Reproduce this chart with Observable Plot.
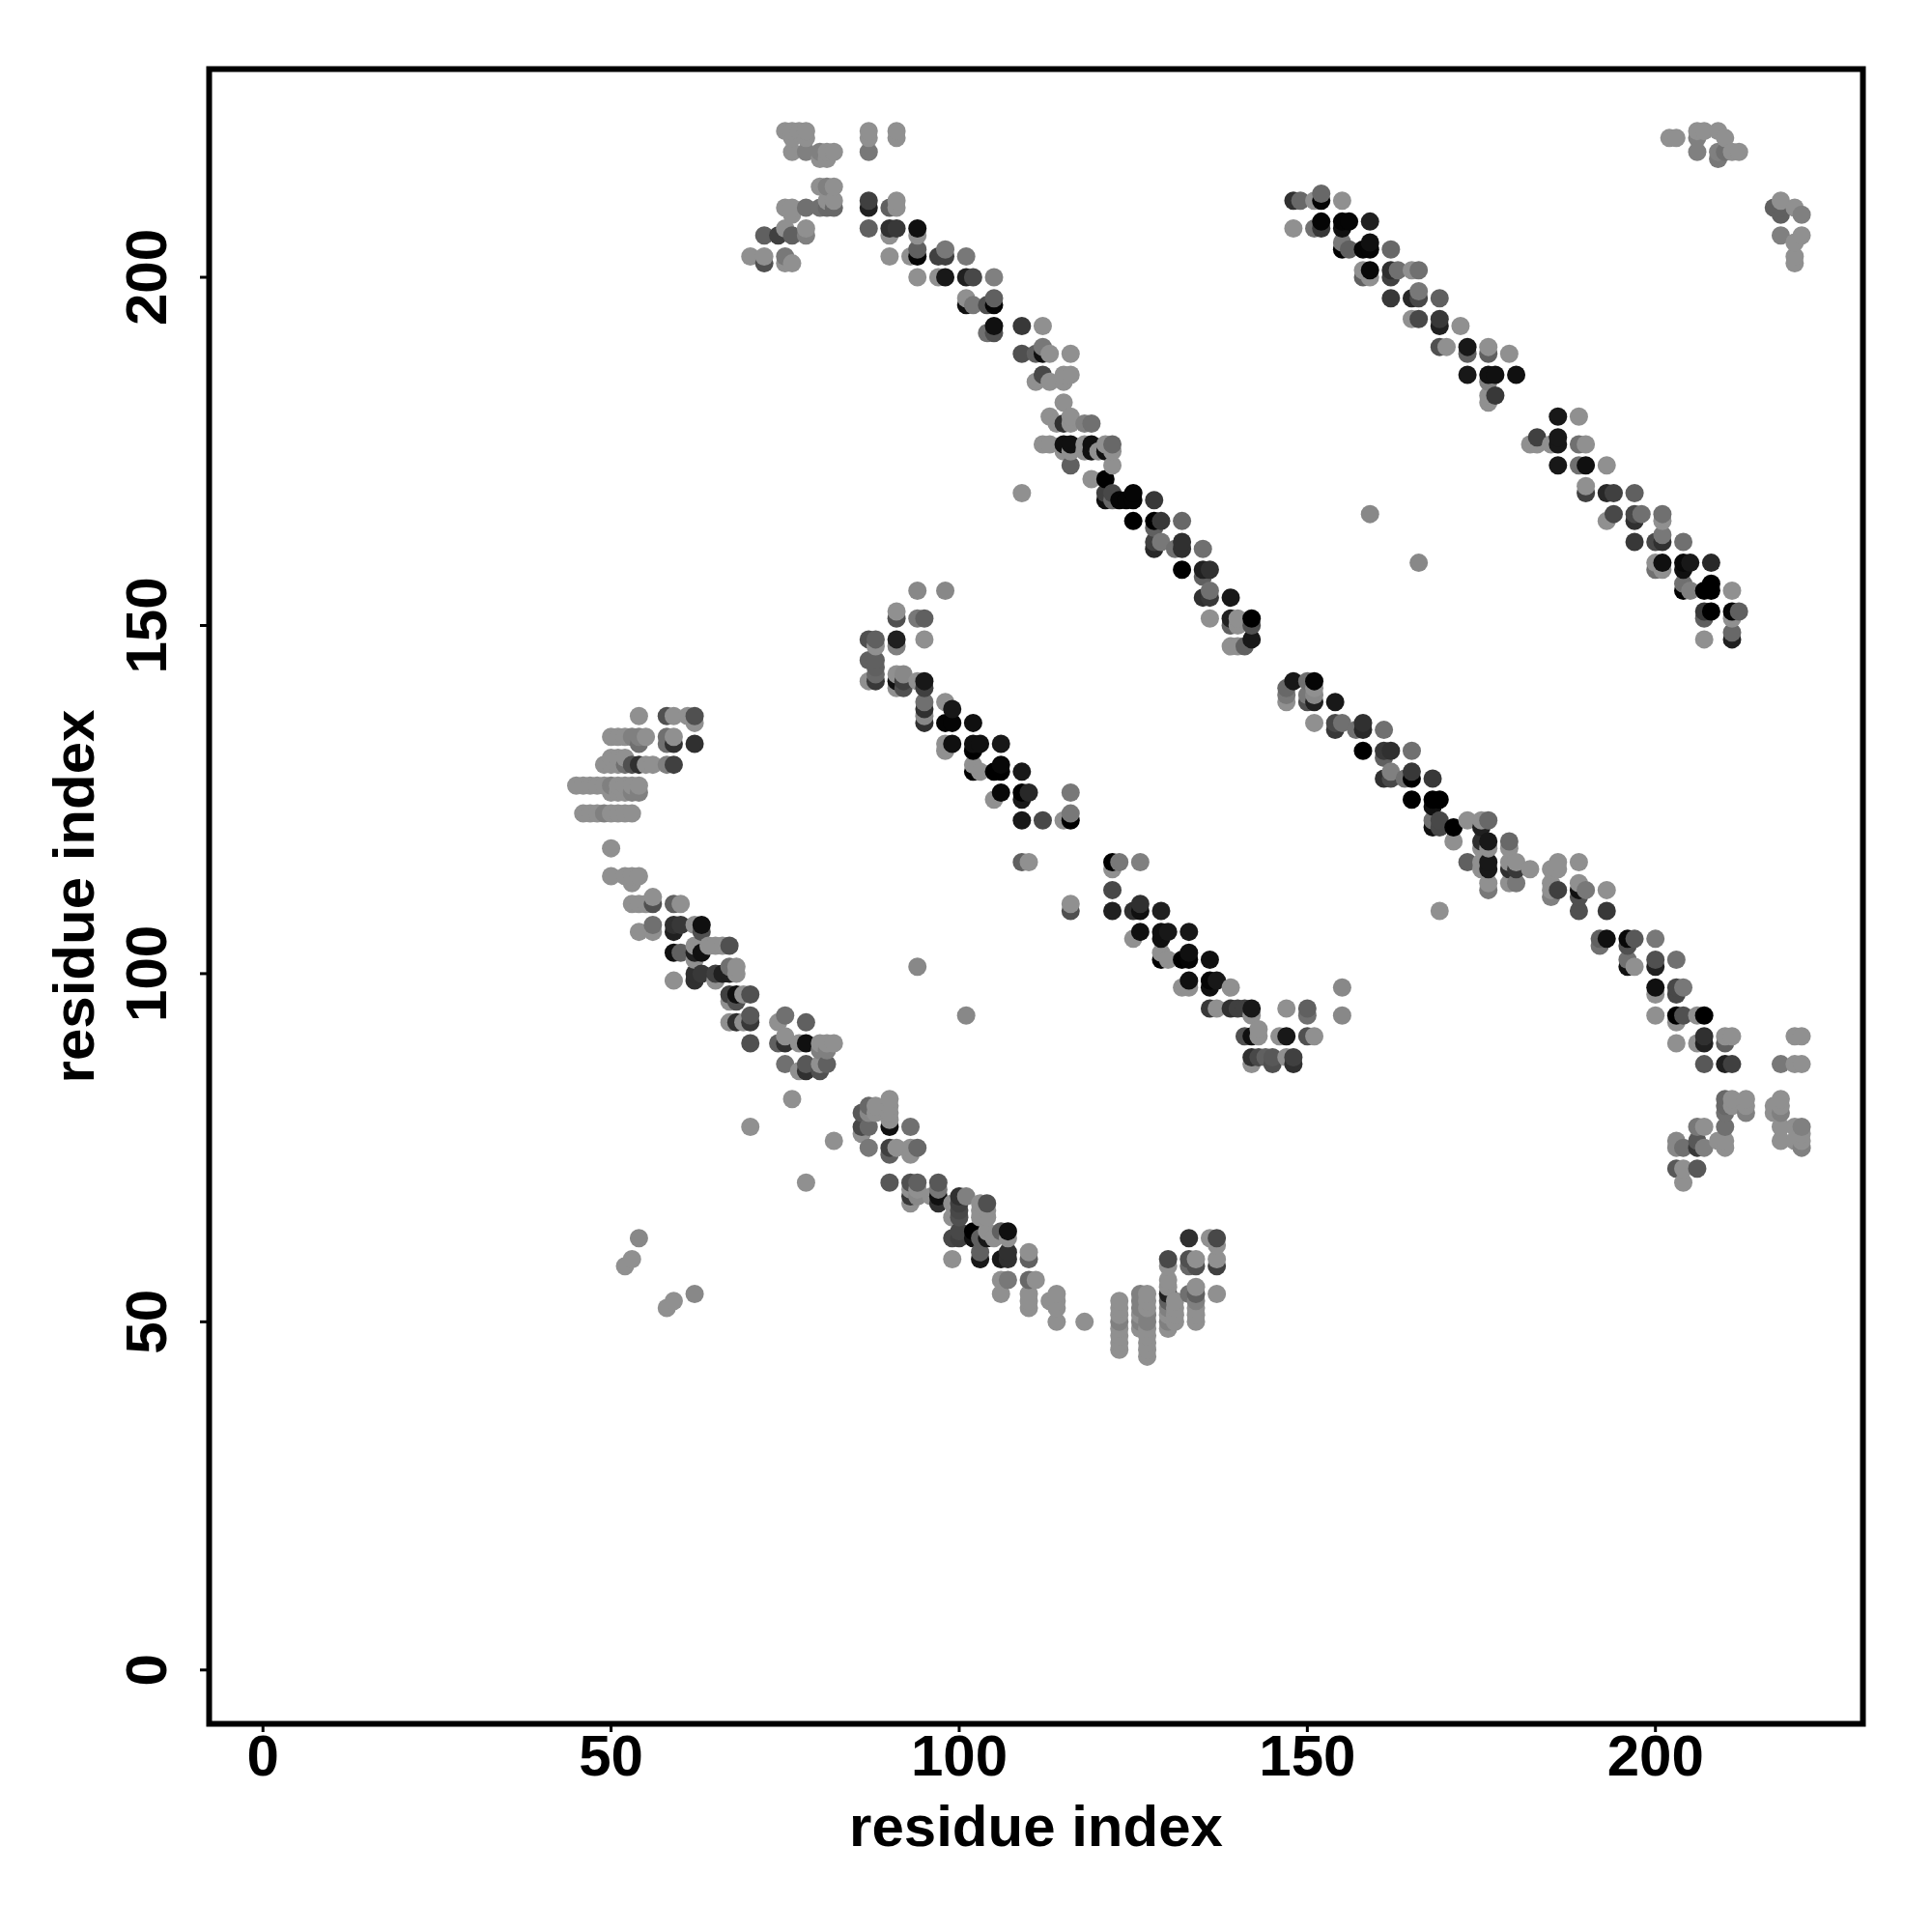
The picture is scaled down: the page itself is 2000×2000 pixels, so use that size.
<!DOCTYPE html>
<html><head><meta charset="utf-8">
<style>html,body{margin:0;padding:0;background:#fff}svg{display:block}</style>
<script src="https://cdn.jsdelivr.net/npm/d3@7"></script>
<script src="https://cdn.jsdelivr.net/npm/@observablehq/plot@0.6"></script>
</head><body><div id="chart"></div>
<script>
const L = 0x90; // lightest grey contact
const tickValues = [0, 50, 100, 150, 200];
const axisTitle = "residue index";
// each contact: [residue x, residue y, grey shade]
const strandLeft = [
[54,137,L],[58,137,0x50],[59,137,L],[61,137,L],[62,137,0x50],[62,136,L],
[50,134,L],[51,134,L],[52,134,L],[53,134,0x80],[54,134,0x80],[55,134,L],[58,134,0x70],[59,134,L],
[54,133,0x70],[58,133,0x70],[59,133,0x30],[62,133,0x30],
[50,131,L],[51,131,L],[52,131,L],
[49,130,L],[50,130,L],[51,130,L],[52,130,0x70],[53,130,0x50],[54,130,0x30],[55,130,L],[56,130,L],[58,130,0x80],[59,130,0x40],
[45,127,L],[46,127,L],[47,127,L],[48,127,L],[49,127,L],[50,127,0x80],[51,127,L],[52,127,L],[53,127,L],[54,127,L],
[50,126,L],[51,126,L],[52,126,L],[53,126,0x80],[54,126,0x80],
[46,123,L],[47,123,L],[48,123,L],[49,123,0x80],[50,123,L],[51,123,L],[52,123,L],[53,123,L],
[50,118,L],[50,114,L],[52,114,L],[53,114,L],[54,114,L],[53,113,L],
[53,110,L],[54,110,L],[55,110,L],[56,110,0x50],[59,110,0x60],[60,110,L],[56,111,L],
[56,107,0x70],[59,107,0x30],[60,107,0x38],[62,107,L],[63,107,0x10],
[54,106,L],[56,106,L],[59,106,0x20],[63,106,0x50],
[59,103,0x10],[60,103,0x60],[62,103,0x20],[63,103,0x10],[62,104,L],[64,104,L],[65,104,L],[66,104,L],[67,104,0x50],[62,102,L],
[62,100,0x30],[63,100,0x38],[65,100,0x40],[66,100,0x20],[67,100,0x20],[68,100,L],[67,101,0x70],[68,101,L],
[59,99,L],[62,99,0x30],[65,99,L],
[67,97,0x40],[68,97,0x10],[69,97,L],[70,97,0x50],[67,96,L],[68,96,0x50],
[70,94,0x58],[75,94,0x70],[67,93,L],[68,93,0x30],[69,93,L],[70,93,0x38],[74,93,L],[78,93,0x60],
[70,90,0x50],[74,90,0x60],[75,90,0x30],[75,91,L],[77,90,L],[78,90,0x10],[80,90,L],[81,90,L],[82,90,L],
[80,89,0x80],[81,89,0x80],[75,87,0x70],[78,87,0x58],[80,87,L],[81,87,0x60],
[77,86,L],[78,86,0x30],[80,86,0x50],[76,82,L]
];
const strandTop = [
[75,221,L],[76,221,L],[77,221,L],[78,221,L],[87,221,L],[91,221,L],[76,220,L],[78,220,L],[87,220,L],[91,220,L],
[76,218,L],[78,218,0x80],[80,218,0x80],[81,218,L],[82,218,L],[87,218,0x78],[80,217,L],[81,217,L],
[80,213,L],[81,213,0x80],[82,213,L],[81,211,L],[82,211,L],[87,211,0x40],[91,211,L],
[75,210,L],[76,210,L],[78,210,0x70],[80,210,0x70],[81,210,0x68],[82,210,0x68],[87,210,0x20],[90,210,0x60],[91,210,L],[76,209,L],
[75,207,L],[78,207,L],[87,207,0x60],[90,207,0x30],[91,207,0x38],[94,207,0x10],
[72,206,0x60],[74,206,0x40],[76,206,0x60],[78,206,0x80],[90,206,L],[94,206,L],
[70,203,L],[72,203,L],[75,203,0x78],[90,203,L],[93,203,L],[94,203,0x05],[97,203,0x40],[98,203,0x40],[101,203,0x78],[94,204,0x60],[98,204,0x78],
[72,202,0x50],[75,202,L],[76,202,L],
[94,200,L],[97,200,L],[98,200,0x18],[101,200,0x20],[102,200,0x48],[105,200,0x80],
[101,197,L],[105,197,0x60],[102,196,0x78],[101,196,0x10],[104,196,0x50],[105,196,0x05],
[105,193,0x10],[109,193,0x38],[112,193,L],[104,192,0x70],[105,192,0x50],
[109,189,0x50],[111,189,0x60],[112,189,0x10],[113,189,L],[116,189,L],[112,190,0x78],
[112,186,0x48],[115,186,L],[116,186,L],[111,185,L],[113,185,L],[115,185,L]
];
const strandMiddle = [
[115,182,L],[113,180,L],[116,180,L],[114,179,L],[115,179,0x30],[116,179,L],[118,179,0x80],[119,179,0x70],
[112,176,L],[113,176,L],[115,176,0x10],[116,176,0x10],[118,176,L],[119,176,0x10],[121,176,L],[122,176,0x68],
[115,175,L],[116,175,L],[118,175,L],[119,175,0x10],[120,175,L],[121,175,0x10],[122,175,L],
[116,173,0x60],[122,173,L],[119,171,L],[121,171,0],[109,169,L],
[121,169,0x40],[122,169,0x48],[125,169,0x05],[121,168,0x10],[122,168,0x68],[123,168,0x05],[124,168,0x05],[125,168,0x05],[128,168,0x38],
[125,165,0],[128,165,0],[129,165,0x38],[132,165,0x68],[128,164,0x60],
[128,162,0x40],[129,162,0x78],[132,162,0x30],[128,161,0x28],[131,161,0x70],[132,161,0x30],[135,161,0x70],
[132,158,0],[135,158,0x20],[136,158,0x30],[135,157,0x60],
[135,154,0x30],[136,154,0x38],[139,154,0x18],[136,155,0x70],
[136,151,L],[139,151,0x20],[140,151,L],[142,151,0],[139,150,0x60],[140,150,L],[142,150,0x50],
[142,148,0x18],[139,147,L],[140,147,L],[141,147,0x60]
];
const strandUpper = [
[148,211,0x30],[149,211,0x68],[151,211,L],[152,211,0x05],[155,211,L],[152,212,0x68],
[148,207,L],[151,207,0x70],[152,207,0x38],[155,207,0x10],[152,208,0x05],[155,208,0x05],[156,208,0x05],[159,208,0x20],
[155,205,0x78],[155,204,0],[156,204,0x60],[158,204,0x05],[159,204,0x05],[162,204,0x68],[159,205,0x10],
[158,201,L],[159,201,0x08],[162,201,0x30],[163,201,0x70],[165,201,L],[166,201,0x70],[158,200,0x60],[159,200,L],[162,200,0x40],
[162,197,0x38],[165,197,0x28],[166,197,0x48],[169,197,0x60],[166,198,0x78],
[165,194,L],[166,194,0x48],[169,194,0x38],[169,193,0x20],[172,193,L],
[169,190,0x50],[170,190,L],[173,190,0x18],[176,190,L],[179,189,L],[173,189,0x60],[176,189,0x60],
[173,186,0x18],[176,186,0x10],[177,186,0x10],[180,186,0x10],[176,185,0x80],[177,183,0x38],[176,183,L],[176,182,L],
[186,180,0x18],[189,180,L],[183,177,0x40],[186,177,0x18],
[182,176,L],[183,176,L],[185,176,L],[186,176,0x18],[189,176,0x70],[190,176,L],
[186,173,0x18],[189,173,0x70],[190,173,0x10],[193,173,L],
[190,170,L],[190,169,0x40],[193,169,0x28],[194,169,0x40],[197,169,0x60],
[194,166,0x48],[197,166,0x48],[198,166,0x70],[201,166,0x70],[193,165,L],[197,165,0x30],[201,165,L],
[201,163,0x78],[197,162,0x38],[200,162,0x48],[201,162,0x30],[204,162,0x70],
[200,159,L],[201,159,0x10],[204,159,0x08],[205,159,0x18],[208,159,0x28],[200,158,0x70],[201,158,L],[204,158,0x10],
[204,156,0x70],[208,156,0],[204,155,0],[205,155,0x80],[207,155,0],[208,155,0],[211,155,L],
[207,152,0x38],[208,152,0],[211,152,0x05],[212,152,0x60],[207,151,0x60],[211,151,L],[207,148,L],[211,149,0x68],[211,148,0x20]
];
const strandInner = [
[94,155,0x88],[98,155,0x88],[91,152,L],[91,151,0x50],[94,151,0x78],[95,151,0x60],
[87,148,0x50],[88,148,0x60],[91,148,0x20],[95,148,L],[88,147,L],[91,147,0x80],
[87,145,0x60],[88,145,0x60],[88,144,0x60],[88,143,0x68],[91,143,L],[92,143,0x88],
[87,142,L],[88,142,0x38],[91,142,0x10],[92,142,0x40],[94,142,L],[95,142,0x18],[91,141,L],[92,141,0x50],[95,141,0x40],
[95,139,0x70],[98,139,L],[95,138,0x30],[99,138,0x18],[95,137,0x88],
[95,136,0x30],[98,136,0x05],[99,136,0x05],[102,136,0x10],
[98,133,L],[99,133,0x10],[102,133,0x10],[103,133,0x10],[106,133,0x18],[98,132,L],[102,132,0],
[102,130,L],[106,130,0x08],[102,129,0],[103,129,L],[105,129,0],[106,129,0],[109,129,0x18],
[106,126,0x08],[109,126,0],[110,126,0x28],[116,126,0x78],[105,125,L],[109,125,0x18],
[109,122,0x18],[112,122,0x48],[115,122,L],[116,122,0],[116,123,0x78],
[109,116,0x60],[110,116,L],[116,110,L],[116,109,0x50],
[122,116,0],[123,116,0x78],[126,116,0x80],[122,115,L],[122,112,0x48],
[122,109,0x20],[125,109,0x30],[126,109,0x10],[129,109,0x20],[126,110,0x30],
[126,106,0x10],[129,106,0x10],[130,106,0x18],[133,106,0x18],[125,105,L],[129,105,0x10],
[129,103,L],[129,102,0],[130,102,L],[132,102,0],[133,102,0x05],[136,102,0x10],[133,103,0x10],
[133,99,0x10],[136,99,0x05],[137,99,0x18],[132,98,L],[133,98,L],[136,98,0x10],[139,98,L],
[136,95,0x38],[137,95,L],[139,95,0x30],[140,95,0x40],[141,95,0x40],[142,95,0x18],[142,94,L],
[141,91,0x50],[142,91,0x10],[143,91,L],[143,92,L],[146,91,L],[147,91,0x18],[150,91,0x50],[151,91,L],
[147,95,L],[150,95,0x60],[150,94,0x70],[155,98,0x88],[155,94,0x88],
[142,88,0x30],[143,88,0x48],[144,88,0x60],[145,88,0x58],[147,88,L],[148,88,0x40],[142,87,L],[145,87,0x50],[148,87,0x30]
];
const strandLower = [
[148,142,0x18],[150,142,0x70],[151,142,0x05],[147,141,0x68],[151,141,L],[147,140,0x78],[150,140,0x78],[151,140,0x88],
[147,139,L],[150,139,0x50],[151,139,0x20],[154,139,0x18],
[151,136,L],[154,136,0x48],[155,136,0x70],[158,136,0x30],[154,135,0x38],[157,135,0x70],[158,135,0x28],[161,135,0x70],
[158,132,0],[161,132,0x38],[162,132,0x30],[165,132,0x70],[161,131,0x60],
[162,129,0x80],[165,129,0x38],[161,128,0x30],[162,128,0x48],[164,128,0x70],[165,128,0],[168,128,0x38],
[165,125,0],[168,125,0],[169,125,0],[168,124,0x10],
[168,122,0x70],[169,122,0x48],[173,122,L],[175,122,L],[176,122,0x68],
[168,121,0x10],[169,121,0x48],[171,121,0],[175,121,0x20],[171,119,L],[175,119,0x30],[176,119,0x18],[179,119,0x68],
[175,118,L],[176,118,L],[179,118,L],[173,116,0x60],[175,116,L],[176,116,0x18],[179,116,L],[180,116,L],
[175,115,L],[176,115,0x18],[179,115,0x30],[180,115,0x38],[182,115,L],[185,115,L],
[176,113,L],[179,113,L],[180,113,0x78],[176,112,0x78],[169,109,L],
[186,116,L],[189,116,L],[186,115,L],[185,113,L],[189,113,L],[185,112,L],[186,112,0x40],[189,112,0x10],[190,112,0x78],[193,112,L],
[185,111,0x80],[189,111,0x50],[189,109,0x50],[193,109,0x38],
[192,105,0x60],[193,105,0x10],[196,105,0x08],[197,105,0x58],[200,105,0x78],[192,104,0x70],[196,104,0x50],
[196,102,0x70],[200,102,0x50],[203,102,0x70],[196,101,0x10],[197,101,L],[200,101,0x20],
[200,98,0x10],[203,98,0x48],[204,98,0x78],[200,97,L],[203,97,0x48],
[200,94,L],[203,94,0],[204,94,0x50],[206,94,L],[207,94,0],[203,93,L],
[207,91,0x30],[210,91,L],[211,91,L],[220,91,L],[221,91,L],[203,90,L],[206,90,L],[207,90,0x20],[210,90,0x60],
[207,87,0x58],[210,87,0x20],[211,87,0x40],[218,87,0x78],[220,87,L],[221,87,L]
];
const strandCorner = [
[210,82,0x68],[211,82,L],[213,82,L],[218,82,L],[210,81,0x68],[211,81,L],[213,81,L],[217,81,L],[218,81,L],
[210,80,0x70],[213,80,0x80],[217,80,L],[218,80,0x80],
[206,78,0x78],[207,78,L],[210,78,0x70],[218,78,L],[220,78,L],[221,78,0x80],[221,77,L],
[203,76,0x88],[206,76,0x58],[209,76,L],[210,76,L],[218,76,L],[220,76,L],[221,76,L],
[203,75,0x88],[204,75,0x70],[206,75,0x38],[207,75,0x80],[210,75,L],[221,75,0x80],
[203,72,0x58],[204,72,L],[206,72,0x58],[204,70,L],
[202,220,L],[203,220,L],[206,221,L],[207,221,L],[206,220,0x80],[209,221,L],[210,220,L],[206,218,0x80],[209,218,0x80],[210,218,0x70],[211,218,L],[212,218,L],[209,217,0x78],
[218,211,L],[217,210,0x60],[218,210,0x60],[218,209,0x60],[220,210,L],[221,209,0x80],[218,206,0x80],[220,205,L],[221,206,L],[220,203,L],[220,202,L],
[159,166,0x88],[166,159,0x88],[94,101,0x88],[101,94,0x88]
];
const strandBottom = [
[78,70,L],[70,78,L],[82,76,L],
[90,82,L],[87,81,0x68],[88,81,L],[90,81,L],[86,80,0x58],[87,80,0x88],[88,80,L],[90,80,L],[90,79,L],
[86,78,0x48],[87,78,0x68],[90,78,0x10],[93,78,0x70],[86,77,L],
[87,75,0x78],[90,75,0x40],[91,75,L],[93,75,L],[94,75,0x68],[90,74,0x60],[93,74,L],
[90,70,0x58],[93,70,0x50],[94,70,0x60],[97,70,0x58],[93,69,L],[94,69,L],[97,69,0x78],
[93,68,0x38],[94,68,0x88],[96,68,L],[97,68,0x10],[93,67,L],[97,67,0x30],
[100,68,0x30],[101,68,0x80],[99,67,L],[100,67,0x40],[103,67,L],[104,67,0x50],[100,66,0x48],[103,66,L],[104,66,L],[99,65,L],[100,65,0x50],[103,65,L],[104,65,L],
[100,63,0x48],[102,63,0],[104,63,L],[106,63,0x60],[107,63,0x10],[99,62,0x48],[100,62,0x40],[102,62,0x10],[103,62,0x60],[104,62,0x18],[105,62,L],[107,62,L],
[103,60,0x60],[107,60,0x30],[110,60,L],[99,59,L],[103,59,0x18],[106,59,0x18],[107,59,0x30],[110,59,0x60],
[106,56,L],[107,56,0x78],[110,56,0x68],[111,56,L],[106,54,L],[110,54,L],[110,53,L],[110,52,L],
[114,54,L],[113,53,L],[114,53,L],[114,52,L],[114,50,L],[118,50,L],
[123,53,L],[123,52,L],[123,51,L],[123,50,0x80],[123,49,L],[123,48,L],[123,47,L],[123,46,L],
[126,54,0x80],[126,53,0x80],[126,52,0x80],[126,51,L],[126,50,0x80],[126,49,L],
[127,54,L],[127,53,L],[127,52,L],[127,51,0x80],[127,50,0x80],[127,49,L],[127,48,L],[127,47,L],[127,46,L],[127,45,L],
[130,59,0x48],[130,58,L],[130,56,L],[130,55,L],[130,54,0x20],[130,53,0x60],[130,52,0x80],[130,51,L],[130,50,0x80],[130,49,L],
[131,53,L],[131,52,L],[131,51,L],[131,50,L],
[133,54,0x70],[133,62,0x30],[133,59,0x50],[133,58,0x68],[134,59,L],[134,58,0x50],[134,55,L],[134,54,0x60],[134,53,0x80],[134,52,L],[134,51,L],[134,50,L],
[136,62,L],[137,62,0x48],[137,61,L],[137,59,L],[137,58,0x40],[137,54,L],
[54,62,0x88],[53,59,L],[52,58,L],[62,54,0x88],[59,53,L],[58,52,L]
];
const contacts = d3.sort(
  [...strandLeft, ...strandTop, ...strandMiddle, ...strandUpper, ...strandInner, ...strandLower, ...strandCorner, ...strandBottom],
  d => d[0], d => d[1]
);
const chart = Plot.plot({
  width: 2000, height: 2000,
  marginLeft: 216, marginRight: 72, marginTop: 71, marginBottom: 216,
  style: {fontFamily: "'Liberation Sans', sans-serif", fontWeight: "bold", background: "#fff"},
  x: {domain: [-7.73, 229.8]},
  y: {domain: [-7.73, 229.9]},
  color: {type: "linear", domain: [0, 255], range: ["#000000", "#ffffff"]},
  marks: [
    Plot.dot(contacts, {x: d => d[0], y: d => d[1], r: 9.5, fill: d => d[2], stroke: "none"}),
    Plot.frame({stroke: "#000", strokeWidth: 6}),
    Plot.axisX({ticks: tickValues, tickSize: 9, tickPadding: 2, tickFormat: d => String(d), fontSize: 60, fontWeight: "bold", fill: "#000", strokeWidth: 3, label: axisTitle, labelAnchor: "center", labelArrow: "none", labelOffset: 126}),
    Plot.axisY({ticks: tickValues, tickSize: 9, tickPadding: 36, tickFormat: d => String(d), tickRotate: -90, textAnchor: "middle", fontSize: 60, fontWeight: "bold", fill: "#000", strokeWidth: 3, label: axisTitle, labelAnchor: "center", labelArrow: "none", labelOffset: 162})
  ]
});
document.getElementById("chart").appendChild(chart);
</script></body></html>
